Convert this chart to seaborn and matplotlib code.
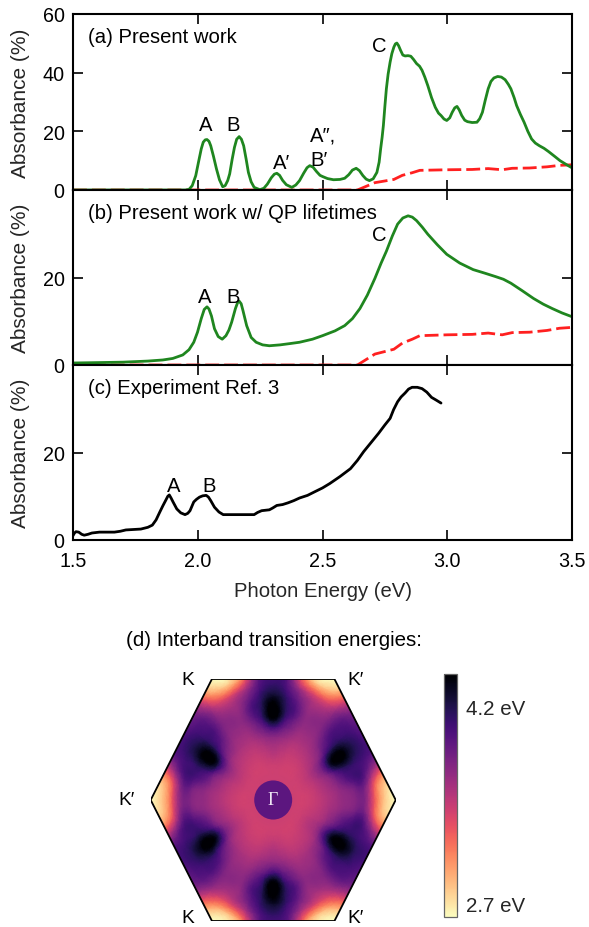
import numpy as np
import pandas as pd
import matplotlib
matplotlib.use("Agg")
import matplotlib.pyplot as plt
import matplotlib.tri as mtri
from matplotlib.patches import Polygon, Ellipse
from matplotlib.colors import Normalize
import seaborn as sns

# ---------------- data: panel (a) present work ----------------
a_green_E = [1.50, 1.80, 1.95, 1.965, 1.978, 1.992, 2.003, 2.014, 2.022, 2.030, 2.037, 2.045, 2.052,
             2.063, 2.075, 2.087, 2.100, 2.110, 2.120, 2.128, 2.138, 2.147, 2.156, 2.166, 2.175,
             2.184, 2.194, 2.203, 2.214, 2.226, 2.249, 2.265, 2.279, 2.295, 2.307, 2.317, 2.328,
             2.340, 2.355, 2.377, 2.393, 2.408, 2.425, 2.438, 2.449, 2.462, 2.476, 2.490, 2.500,
             2.520, 2.544, 2.570, 2.589, 2.605, 2.620, 2.635, 2.648, 2.662, 2.675, 2.688, 2.703,
             2.718, 2.727, 2.733, 2.739, 2.744, 2.750, 2.756, 2.763, 2.771, 2.778, 2.786, 2.792,
             2.798, 2.805, 2.813, 2.822, 2.831, 2.843, 2.854, 2.865, 2.877, 2.889, 2.899, 2.910,
             2.922, 2.937, 2.952, 2.965, 2.975, 2.987, 2.998, 3.010, 3.020, 3.030, 3.039, 3.048,
             3.058, 3.070, 3.081, 3.100, 3.119, 3.130, 3.141, 3.152, 3.164, 3.175, 3.187, 3.202,
             3.217, 3.232, 3.245, 3.255, 3.268, 3.278, 3.293, 3.308, 3.323, 3.338, 3.353, 3.369,
             3.388, 3.406, 3.430, 3.452, 3.475, 3.497]
a_green_A = [0.0, 0.0, 0.0, 0.2, 1.5, 4.9, 9.5, 14.0, 16.3, 17.1, 17.2, 16.6, 15.1,
             11.5, 7.2, 3.5, 1.1, 1.5, 3.2, 5.5, 10.5, 14.5, 17.3, 18.2, 17.3,
             15.1, 10.5, 6.0, 2.8, 0.9, 0.1, 0.6, 2.0, 4.2, 5.4, 5.7, 5.0,
             3.3, 1.8, 0.9, 1.7, 3.2, 5.8, 7.6, 8.3, 7.8, 6.3, 5.0, 4.6,
             3.9, 3.5, 3.6, 4.0, 5.2, 6.8, 7.4, 6.6, 4.9, 3.7, 3.2, 3.8,
             6.0, 9.5, 14.0, 18.0, 22.0, 28.5, 34.5, 39.5, 43.6, 46.5, 48.7, 49.8,
             50.1, 49.2, 47.6, 46.0, 45.7, 45.8, 45.6, 44.5, 43.1, 42.2, 40.8, 38.5,
             35.6, 31.5, 28.2, 26.2, 25.4, 24.2, 23.7, 24.6, 26.5, 28.0, 28.5, 27.3,
             25.4, 23.8, 23.3, 23.0, 23.1, 24.3, 26.5, 30.5, 34.5, 37.0, 38.2, 38.7,
             38.5, 37.6, 36.0, 34.5, 31.5, 28.8, 25.8, 23.1, 20.0, 17.4, 16.0, 15.1,
             14.2, 13.1, 11.5, 10.0, 8.8, 7.7]

# independent-particle (red dashed) curve, same in (a) and (b)
red_E = [1.50, 2.00, 2.64, 2.71, 2.786, 2.82, 2.86, 2.89, 3.00, 3.10, 3.164, 3.22, 3.26, 3.33,
         3.40, 3.45, 3.50]
red_A = [0.0, 0.0, 0.0, 2.5, 3.6, 5.0, 5.9, 6.7, 6.9, 7.0, 7.3, 6.9, 7.4, 7.5,
         7.9, 8.4, 8.6]

# ---------------- data: panel (b) with QP lifetimes ----------------
b_green_E = [1.50, 1.60, 1.70, 1.80, 1.86, 1.90, 1.94, 1.965, 1.984, 1.999, 2.014, 2.026, 2.037,
             2.045, 2.055, 2.067, 2.082, 2.098, 2.113, 2.125, 2.136, 2.151, 2.160, 2.166, 2.174,
             2.181, 2.196, 2.214, 2.234, 2.260, 2.287, 2.330, 2.370, 2.408, 2.460, 2.500, 2.550,
             2.589, 2.620, 2.650, 2.680, 2.710, 2.735, 2.756, 2.780, 2.801, 2.822, 2.843, 2.860,
             2.877, 2.900, 2.922, 2.960, 2.998, 3.050, 3.104, 3.150, 3.194, 3.225, 3.255, 3.300,
             3.346, 3.385, 3.421, 3.460, 3.497]
b_green_A = [0.46, 0.55, 0.65, 0.9, 1.15, 1.5, 2.3, 3.5, 5.2, 7.5, 10.6, 12.7, 13.3,
             12.8, 11.2, 8.3, 6.5, 5.9, 6.7, 8.0, 9.8, 12.9, 14.3, 14.6, 14.0,
             12.5, 9.0, 6.3, 5.2, 4.6, 4.4, 4.6, 4.9, 5.2, 5.9, 6.7, 7.8,
             9.0, 10.6, 12.9, 16.0, 19.8, 23.3, 26.0, 29.5, 32.2, 33.6, 34.1, 33.8,
             33.0, 31.5, 29.9, 27.5, 25.3, 23.3, 21.8, 21.0, 20.2, 19.6, 18.7, 17.0,
             15.2, 13.9, 12.9, 11.9, 11.1]

# ---------------- data: panel (c) experiment ----------------
c_exp_E = [1.500, 1.506, 1.512, 1.523, 1.535, 1.545, 1.560, 1.576, 1.606, 1.666, 1.690, 1.712,
           1.772, 1.800, 1.818, 1.833, 1.848, 1.860, 1.871, 1.880, 1.886, 1.893, 1.901, 1.916,
           1.932, 1.949, 1.960, 1.969, 1.984, 1.995, 2.007, 2.020, 2.034, 2.043, 2.052, 2.067,
           2.085, 2.102, 2.160, 2.226, 2.240, 2.256, 2.287, 2.300, 2.317, 2.340, 2.362, 2.385,
           2.408, 2.440, 2.468, 2.500, 2.529, 2.570, 2.612, 2.640, 2.665, 2.695, 2.725, 2.750,
           2.771, 2.785, 2.801, 2.815, 2.831, 2.845, 2.859, 2.880, 2.899, 2.918, 2.937, 2.955,
           2.975]
c_exp_A = [1.0, 1.6, 1.9, 1.8, 1.3, 1.1, 1.3, 1.6, 1.8, 1.8, 2.0, 2.3,
           2.5, 2.9, 3.4, 4.6, 6.4, 7.8, 9.0, 10.0, 10.3, 9.6, 8.7, 7.1,
           6.2, 5.8, 6.1, 6.7, 8.7, 9.3, 9.8, 10.1, 10.2, 9.8, 9.0, 7.5,
           6.4, 5.8, 5.8, 5.8, 6.3, 6.7, 6.9, 7.3, 7.9, 8.1, 8.5, 9.0,
           9.6, 10.2, 11.0, 11.9, 12.9, 14.5, 16.3, 18.2, 20.2, 22.3, 24.4, 26.3,
           27.8, 29.8, 31.6, 32.7, 33.6, 34.5, 34.9, 34.9, 34.6, 33.8, 32.6, 32.0,
           31.3]

x_ticks = [1.5, 2.0, 2.5, 3.0, 3.5]
x_ticklabels = ["1.5", "2.0", "2.5", "3.0", "3.5"]

# ---------------- data: panel (d) interband transition energies ----------------
# energies (eV) read along radial lines of the hexagonal zone (first quadrant, mirrored)
hex_radii = [0.17, 0.25, 0.35, 0.45, 0.53, 0.60, 0.67, 0.74, 0.82, 0.90, 1.00]
hex_angles = [0, 8, 15, 22, 30, 38, 45, 52, 60, 67, 75, 82, 90]
center_energy = 3.42
hex_energy = [
    [3.42, 3.41, 3.46, 3.56, 3.64, 3.70, 3.75, 3.78, 3.30, 2.85, 2.60],
    [3.42, 3.41, 3.47, 3.58, 3.67, 3.76, 3.85, 3.88, 3.35, 2.90, 2.70],
    [3.42, 3.42, 3.49, 3.62, 3.78, 3.95, 4.05, 4.05, 3.75, 3.40, 3.20],
    [3.42, 3.43, 3.52, 3.70, 3.98, 4.15, 4.15, 4.08, 4.00, 3.92, 3.88],
    [3.42, 3.43, 3.55, 3.82, 4.30, 4.50, 4.42, 4.22, 4.08, 4.00, 3.95],
    [3.42, 3.43, 3.52, 3.70, 3.98, 4.15, 4.15, 4.08, 4.00, 3.90, 3.85],
    [3.42, 3.42, 3.49, 3.62, 3.78, 3.92, 4.00, 3.98, 3.90, 3.75, 3.65],
    [3.42, 3.41, 3.47, 3.58, 3.67, 3.74, 3.78, 3.75, 3.60, 3.30, 3.00],
    [3.42, 3.41, 3.46, 3.56, 3.64, 3.70, 3.72, 3.62, 3.35, 2.90, 2.60],
    [3.42, 3.41, 3.46, 3.56, 3.65, 3.72, 3.72, 3.65, 3.40, 2.85, 2.70],
    [3.42, 3.42, 3.49, 3.62, 3.78, 3.92, 4.00, 3.90, 3.65, 3.25, 3.20],
    [3.42, 3.43, 3.52, 3.68, 3.92, 4.15, 4.18, 4.12, 3.98, 3.90, 3.85],
    [3.42, 3.43, 3.55, 3.72, 4.10, 4.50, 4.50, 4.32, 4.12, 4.05, 4.00],
]
# flat plateau of the transition energy around Gamma
gamma_energy = 3.93
gamma_radius_x, gamma_radius_y = 0.155, 0.14
cbar_ticks = [2.7, 4.2]
cbar_labels = ["2.7 eV", "4.2 eV"]
e_min, e_max = 2.6, 4.45

# ---------------- style ----------------
sns.set_theme(style="ticks")
plt.rcParams["font.family"] = ["Liberation Sans", "DejaVu Sans"]
plt.rcParams["axes.linewidth"] = 1.5
plt.rcParams["text.color"] = "black"

GREEN = "#1f861f"
RED = "#ff2020"
FS = 14.6
FS_TICK = 14.2

W, H = 589, 928
fig = plt.figure(figsize=(W / 100, H / 100), dpi=100)


def px_axes(x0, y0, x1, y1):
    return fig.add_axes([x0 / W, 1 - y1 / H, (x1 - x0) / W, (y1 - y0) / H])


X0, X1 = 73, 572
ax_a = px_axes(X0, 15, X1, 191)
ax_b = px_axes(X0, 191, X1, 366)
ax_c = px_axes(X0, 366, X1, 541)

df_a = pd.DataFrame({"E": a_green_E, "A": a_green_A})
df_b = pd.DataFrame({"E": b_green_E, "A": b_green_A})
df_c = pd.DataFrame({"E": c_exp_E, "A": c_exp_A})
df_r = pd.DataFrame({"E": red_E, "A": red_A})

for ax in (ax_a, ax_b):
    sns.lineplot(data=df_r, x="E", y="A", ax=ax, color=RED, lw=2.0,
                 linestyle=(0, (5, 1.8)), errorbar=None)
sns.lineplot(data=df_a, x="E", y="A", ax=ax_a, color=GREEN, lw=2.0, errorbar=None)
sns.lineplot(data=df_b, x="E", y="A", ax=ax_b, color=GREEN, lw=2.0, errorbar=None)
sns.lineplot(data=df_c, x="E", y="A", ax=ax_c, color="black", lw=2.0, errorbar=None)

ylims = [(0, 60), (0, 40), (0, 40)]
yticks = [[0, 20, 40, 60], [0, 20], [0, 20]]
titles = ["(a) Present work", "(b) Present work w/ QP lifetimes", "(c) Experiment Ref. 3"]
for ax, yl, yt, tt in zip((ax_a, ax_b, ax_c), ylims, yticks, titles):
    ax.set_xlim(1.5, 3.5)
    ax.set_ylim(*yl)
    ax.set_yticks(yt)
    ax.set_yticklabels([str(v) for v in yt])
    ax.set_xticks(x_ticks)
    ax.set_xticklabels(x_ticklabels)
    ax.tick_params(direction="in", length=7.5, width=1.2, top=True, right=True,
                   labelsize=FS_TICK, colors="black")
    ax.tick_params(axis="y", pad=6)
    ax.tick_params(axis="x", pad=8)
    for s in ax.spines.values():
        s.set_linewidth(1.5)
        s.set_color("black")
    ax.set_ylabel("Absorbance (%)", fontsize=15)
    ax.yaxis.set_label_coords(-0.086, 0.5)
    ax.set_xlabel("")
    ax.text(0.031, 0.87, tt, transform=ax.transAxes, ha="left", va="center", fontsize=FS)

ax_a.tick_params(axis="x", labelbottom=False)
ax_b.tick_params(axis="x", labelbottom=False)
ax_c.set_xlabel("Photon Energy (eV)", fontsize=FS)
ax_c.xaxis.set_label_coords(0.5, -0.232)

# peak annotations
ann_kw = dict(ha="center", va="center", fontsize=FS)
ax_a.text(2.030, 22.2, "A", **ann_kw)
ax_a.text(2.143, 22.2, "B", **ann_kw)
ax_a.text(2.334, 9.5, "A′", **ann_kw)
ax_a.text(2.450, 18.6, "A″,", ha="left", va="center", fontsize=FS)
ax_a.text(2.450, 10.4, "B′", ha="left", va="center", fontsize=FS)
ax_a.text(2.728, 49.3, "C", **ann_kw)
ax_b.text(2.026, 15.6, "A", **ann_kw)
ax_b.text(2.143, 15.6, "B", **ann_kw)
ax_b.text(2.728, 29.9, "C", **ann_kw)
ax_c.text(1.905, 12.5, "A", **ann_kw)
ax_c.text(2.045, 12.5, "B", **ann_kw)

# ---------------- panel (d) ----------------
ax_d = px_axes(150.7, 680, 395.7, 922)
ax_d.set_xlim(-1, 1)
ax_d.set_ylim(-np.sqrt(3) / 2, np.sqrt(3) / 2)
ax_d.axis("off")

px, py, pz = [0.0], [0.0], [center_energy]
for ang, row in zip(hex_angles, hex_energy):
    phis = sorted({ang % 360, (180 - ang) % 360, (180 + ang) % 360, (360 - ang) % 360})
    for phi in phis:
        t = np.deg2rad(phi)
        for r, e in zip(hex_radii, row):
            px.append(r * np.cos(t))
            py.append(r * np.sin(t))
            pz.append(e)
triang = mtri.Triangulation(px, py)
refiner = mtri.UniformTriRefiner(triang)
tri_fine, z_fine = refiner.refine_field(np.array(pz), subdiv=3)

hex_pts = [(np.cos(np.deg2rad(a)), np.sin(np.deg2rad(a))) for a in range(0, 360, 60)]
hex_patch = Polygon(hex_pts, closed=True, fill=False, edgecolor="black", lw=1.3, zorder=3)
ax_d.add_patch(hex_patch)

cmap = sns.color_palette("magma_r", as_cmap=True)
norm = Normalize(e_min, e_max)
tpc = ax_d.tripcolor(tri_fine, z_fine, cmap=cmap, norm=norm, shading="gouraud")
tpc.set_clip_path(hex_patch)
ax_d.add_patch(Ellipse((0, 0), 2 * gamma_radius_x, 2 * gamma_radius_y,
                       facecolor=cmap(norm(gamma_energy)), edgecolor="none", zorder=2))

lab_kw = dict(ha="center", va="center", fontsize=13.8, clip_on=False)
ax_d.text(-0.695, 0.866, "K", **lab_kw)
ax_d.text(0.672, 0.866, "K′", **lab_kw)
ax_d.text(-1.20, 0.0, "K′", **lab_kw)
ax_d.text(-0.695, -0.842, "K", **lab_kw)
ax_d.text(0.672, -0.842, "K′", **lab_kw)
ax_d.text(0.0, 0.0, "Γ", ha="center", va="center", fontsize=13, color="#eee6f4",
          family=["Liberation Serif", "DejaVu Serif"], zorder=4)

fig.text(273.5 / W, 1 - 641 / H, "(d) Interband transition energies:", ha="center",
         va="center", fontsize=14.8)

ax_cb = px_axes(444, 675, 456.7, 918)
cb = fig.colorbar(tpc, cax=ax_cb, ticks=cbar_ticks)
cb.ax.set_yticklabels(cbar_labels)
cb.ax.tick_params(direction="in", length=5, width=1.0, color="#555555", labelsize=14.8, pad=7)
cb.outline.set_edgecolor("#666666")
cb.outline.set_linewidth(0.9)

fig.savefig("out.png", dpi=100)
